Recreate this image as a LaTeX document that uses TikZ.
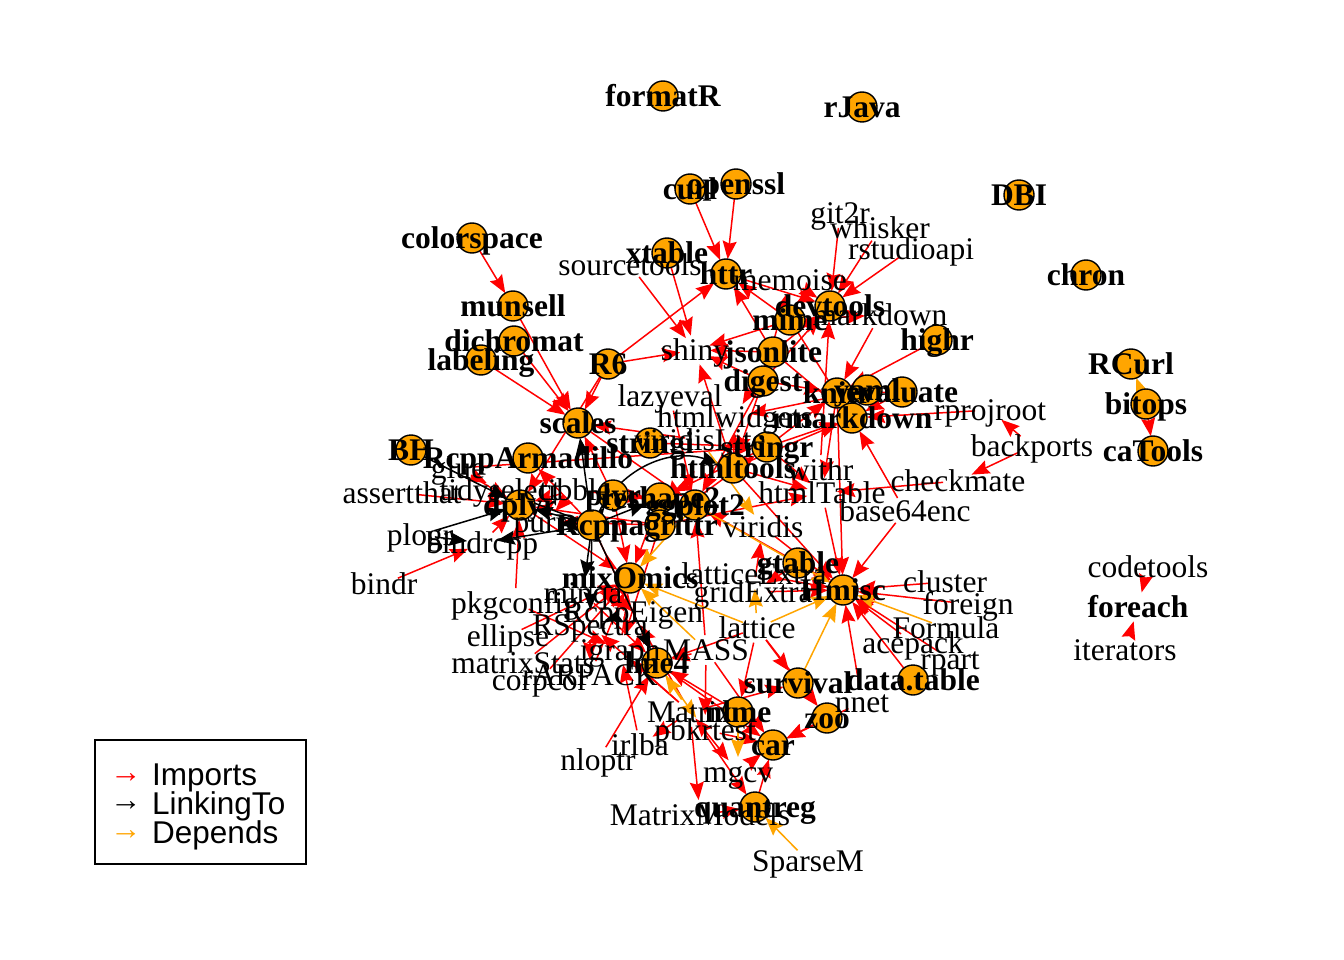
\documentclass[tikz,border=0pt]{standalone}
\usepackage{fontspec}
\setmainfont{Liberation Serif}
\newfontfamily\legfont{Liberation Sans}
\usetikzlibrary{arrows.meta,backgrounds}
\definecolor{vorange}{HTML}{FFA500}
\definecolor{ered}{HTML}{FF0000}
\tikzset{
  vtx/.style={circle,minimum size=30pt,inner sep=0pt,outer sep=0pt},
  ovtx/.style={vtx,draw=black,line width=1.4pt,fill=vorange},
  lab/.style={inner sep=0pt,text height=0.66em,text depth=0pt,yshift=-7pt,font=\fontsize{31.5}{31.5}\selectfont},
  blab/.style={inner sep=0pt,text height=0.66em,text depth=0pt,yshift=-7pt,font=\fontsize{31.5}{31.5}\selectfont\bfseries},
  arr/.style={line width=1.5pt,-{Stealth[length=18pt,width=14pt,inset=2.5pt]}},
  imp/.style={arr,ered},
  lnk/.style={arr,black},
  dep/.style={arr,vorange},
  legtxt/.style={anchor=west,inner sep=0pt,font=\fontsize{31.5}{31.5}\selectfont\legfont},
  legbox/.style={draw=black,line width=1.5pt}
}
\begin{document}
\begin{tikzpicture}[x=1pt,y=-1pt]
\useasboundingbox (0,0) rectangle (1344,960);
% orange vertices
\foreach \id/\x/\y in {formatR/663/96, rJava/862/107, curl/690/189, openssl/736/184, DBI/1019/195,
  colorspace/472/238, xtable/667/253, chron/1086/275, httr/726/274, munsell/513/306, devtools/830/306,
  mime/790/320, highr/937/340, dichromat/514/341, labeling/481/360, R6/608/364, jsonlite/773/352,
  digest/763/381, knitr/837/393, yaml/867/390, evaluate/902/392, rmarkdown/852/418, RCurl/1131/364,
  bitops/1146/404, caTools/1153/451, scales/578/423, stringi/650/443, BH/411/450, RcppArmadillo/528/458,
  stringr/767/447, htmltools/733/468, dplyr/520/505, plyr/613/495, reshape2/660/498, ggplot2/695/505,
  Rcpp/592/525, magrittr/660/525, mixOmics/630/578, gtable/798/563, Hmisc/843/590, lme4/657/663,
  survival/798/683, datatable/913/680, nlme/738/712, zoo/827/718, car/773/745, quantreg/755/807}
  {\node[ovtx] (\id) at (\x,\y) {};}
% plain vertices
\foreach \id/\x/\y in {foreach/1138/607, git2r/840/213, whisker/880/228, rstudioapi/911/249, sourcetools/630/265,
  memoise/790/280, markdown/880/315, shiny/695/350, lazyeval/670/396, htmlwidgets/735/417, rprojroot/990/410,
  backports/1032/446, withr/820/470, htmlTable/822/493, checkmate/958/481, base64enc/905/511,
  viridis/763/527, viridisLite/700/440, tidyselect/500/490, tibble/575/490, glue/458/468,
  assertthat/402/493, plogr/420/535, bindrcpp/482/543, bindr/384/584, purrr/545/522, pkgconfig/515/603,
  minqa/583/593, RcppEigen/633/612, RSpectra/590/625, latticeExtra/754/574, gridExtra/753/592,
  lattice/757/628, cluster/945/582, foreign/968/604, Formula/946/628, acepack/913/643, rpart/950/659,
  nnet/862/702, ellipse/508/636, igraph/620/650, MASS/706/650, matrixStats/523/663, rARPACK/590/675,
  corpcor/540/680, Matrix/690/712, pbkrtest/705/730, irlba/640/745, nloptr/598/760, mgcv/738/772,
  MatrixModels/700/815, SparseM/808/861, codetools/1148/567, iterators/1125/650}
  {\node[vtx] (\id) at (\x,\y) {};}
\begin{pgfonlayer}{background}
\fill[white] (0,0) rectangle (1344,960);
\foreach \a/\b in {colorspace/munsell, munsell/scales, dichromat/scales, labeling/scales, R6/scales, plyr/scales,
  viridisLite/scales, curl/httr, openssl/httr, jsonlite/httr, mime/httr, R6/httr,
  httr/devtools, git2r/devtools, whisker/devtools, rstudioapi/devtools, memoise/devtools, digest/devtools,
  jsonlite/devtools, withr/devtools, digest/memoise,
  sourcetools/shiny, xtable/shiny, mime/shiny, jsonlite/shiny, digest/shiny, htmltools/shiny, R6/shiny,
  highr/knitr, markdown/knitr, yaml/knitr, evaluate/knitr, digest/knitr, stringr/knitr, mime/markdown,
  knitr/rmarkdown, yaml/rmarkdown, htmltools/rmarkdown, evaluate/rmarkdown, jsonlite/rmarkdown,
  base64enc/rmarkdown, rprojroot/rmarkdown, stringr/rmarkdown, mime/rmarkdown,
  backports/rprojroot, backports/checkmate, htmltools/htmlwidgets, jsonlite/htmlwidgets, yaml/htmlwidgets,
  digest/htmltools, stringi/stringr, magrittr/stringr, glue/stringr,
  lazyeval/ggplot2, digest/ggplot2, gtable/ggplot2, plyr/ggplot2, reshape2/ggplot2, scales/ggplot2,
  tibble/ggplot2, MASS/ggplot2, plyr/reshape2, stringr/reshape2,
  assertthat/dplyr, glue/dplyr, bindrcpp/dplyr, magrittr/dplyr, pkgconfig/dplyr, R6/dplyr, tibble/dplyr,
  tidyselect/dplyr, bindr/bindrcpp, purrr/tidyselect, glue/tidyselect, magrittr/purrr, tibble/purrr,
  gtable/gridExtra, gridExtra/viridis,
  checkmate/htmlTable, htmltools/htmlTable, knitr/htmlTable, magrittr/htmlTable, stringr/htmlTable,
  latticeExtra/Hmisc, cluster/Hmisc, rpart/Hmisc, nnet/Hmisc, acepack/Hmisc, foreign/Hmisc, gtable/Hmisc,
  gridExtra/Hmisc, datatable/Hmisc, htmlTable/Hmisc, viridis/Hmisc, htmltools/Hmisc, base64enc/Hmisc, knitr/Hmisc,
  igraph/mixOmics, ellipse/mixOmics, corpcor/mixOmics, rARPACK/mixOmics, matrixStats/mixOmics,
  reshape2/mixOmics, dplyr/mixOmics, plyr/mixOmics,
  RSpectra/rARPACK, Matrix/RSpectra, magrittr/igraph, Matrix/igraph, pkgconfig/igraph, irlba/igraph,
  Matrix/irlba, minqa/lme4, nloptr/lme4, MASS/lme4, lattice/lme4, nlme/lme4, lattice/nlme, Matrix/mgcv,
  Matrix/pbkrtest, MASS/pbkrtest, MatrixModels/quantreg, Matrix/quantreg, Matrix/MatrixModels,
  pbkrtest/car, quantreg/car, mgcv/car, nnet/car, MASS/car, zoo/car, lme4/car,
  Matrix/survival, lattice/survival, lattice/zoo, codetools/foreach, iterators/foreach, bitops/caTools,
  Rcpp/RcppEigen, Rcpp/RcppArmadillo, Matrix/RcppEigen}
  {\draw[imp] (\a) -- (\b);}
\foreach \a/\b in {Rcpp/plyr, Rcpp/dplyr, BH/dplyr, plogr/dplyr, Rcpp/bindrcpp, plogr/bindrcpp,
  Rcpp/reshape2, Rcpp/lme4, RcppEigen/lme4, Rcpp/minqa, Rcpp/RSpectra, RcppEigen/RSpectra,
  Rcpp/scales, Rcpp/tidyselect, Rcpp/purrr}
  {\draw[lnk] (\a) -- (\b);}
\draw[lnk] (Rcpp) to[bend left=40] (htmltools);
\foreach \a/\b in {bitops/RCurl, lattice/Hmisc, survival/Hmisc, Formula/Hmisc, ggplot2/Hmisc,
  MASS/mixOmics, lattice/mixOmics, ggplot2/mixOmics, Matrix/lme4, nlme/mgcv, SparseM/quantreg,
  viridisLite/viridis, lattice/latticeExtra, lme4/pbkrtest}
  {\draw[dep] (\a) -- (\b);}
\end{pgfonlayer}
% labels
\foreach \id/\t in {formatR/formatR, rJava/rJava, curl/curl, openssl/openssl, DBI/DBI, colorspace/colorspace,
  xtable/xtable, chron/chron, httr/httr, munsell/munsell, devtools/devtools, mime/mime, highr/highr,
  dichromat/dichromat, labeling/labeling, R6/R6, jsonlite/jsonlite, digest/digest, knitr/knitr, yaml/yaml,
  evaluate/evaluate, rmarkdown/rmarkdown, RCurl/RCurl, bitops/bitops, caTools/caTools, scales/scales,
  stringi/stringi, BH/BH, RcppArmadillo/RcppArmadillo, stringr/stringr, htmltools/htmltools, dplyr/dplyr,
  plyr/plyr, reshape2/reshape2, ggplot2/ggplot2, Rcpp/Rcpp, magrittr/magrittr, mixOmics/mixOmics,
  gtable/gtable, Hmisc/Hmisc, lme4/lme4, survival/survival, datatable/data.table, nlme/nlme, zoo/zoo,
  car/car, quantreg/quantreg, foreach/foreach}
  {\node[blab] (l\id) at (\id) {\t};}
\foreach \id in {git2r, whisker, rstudioapi, sourcetools, memoise, markdown, shiny, lazyeval, htmlwidgets,
  rprojroot, backports, withr, htmlTable, checkmate, base64enc, viridis, viridisLite, tidyselect, tibble,
  glue, assertthat, plogr, bindrcpp, bindr, purrr, pkgconfig, minqa, RcppEigen, RSpectra, latticeExtra,
  gridExtra, lattice, cluster, foreign, Formula, acepack, rpart, nnet, ellipse, igraph, MASS, matrixStats,
  rARPACK, corpcor, Matrix, pbkrtest, irlba, nloptr, mgcv, MatrixModels, SparseM, codetools, iterators}
  {\node[lab] (l\id) at (\id) {\id};}
% legend
\node[legbox,minimum width=211pt,minimum height=124pt,inner sep=0pt] (legend) at (200.5,802) {};
\node[legtxt,text=ered] (la1) at (110,778) {→};
\node[legtxt] (lt1) at (152,778) {Imports};
\node[legtxt,text=black] (la2) at (110,806) {→};
\node[legtxt] (lt2) at (152,806) {LinkingTo};
\node[legtxt,text=vorange] (la3) at (110,835) {→};
\node[legtxt] (lt3) at (152,835) {Depends};
\end{tikzpicture}
\end{document}
